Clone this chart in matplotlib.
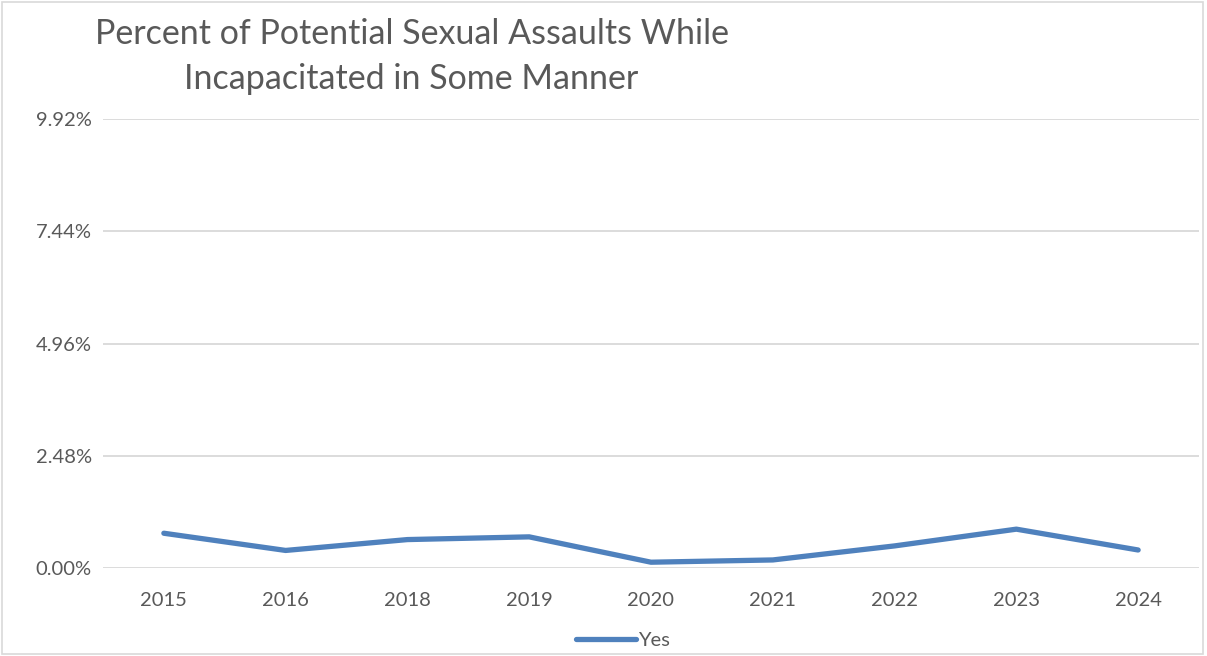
import matplotlib.pyplot as plt
from matplotlib.patches import Rectangle

# data (percent)
years = ['2015', '2016', '2018', '2019', '2020', '2021', '2022', '2023', '2024']
yes_pct = [0.77, 0.39, 0.63, 0.69, 0.13, 0.18, 0.49, 0.86, 0.40]
y_ticks = [0.0, 2.48, 4.96, 7.44, 9.92]

TEXT = '#595959'
plt.rcParams['font.family'] = ['Lato', 'DejaVu Sans']

fig = plt.figure(figsize=(12.07, 6.56), dpi=100)
ax = fig.add_axes([0.0853, 0.134, 0.9081, 0.6846])

x = list(range(len(years)))
line, = ax.plot(x, yes_pct, color='#4F81BD', lw=3.8, solid_capstyle='round',
                solid_joinstyle='round', label='Yes')

ax.set_xlim(-0.5, len(years) - 0.5)
ax.set_ylim(0, 9.92)
ax.set_yticks(y_ticks)
ax.set_yticklabels([f'{v:.2f}%' for v in y_ticks])
ax.set_xticks(x)
ax.set_xticklabels(years)
ax.grid(axis='y', color='#D9D9D9', lw=1.3)
ax.set_axisbelow(True)
for s in ax.spines.values():
    s.set_visible(False)
ax.tick_params(length=0, labelsize=14.5, colors=TEXT, pad=17)
ax.tick_params(axis='y', pad=8)

# title, two lines
fig.text(0.341, 0.914, 'Percent of Potential Sexual Assaults While\nIncapacitated in Some Manner',
         ha='center', va='center', fontsize=24.5, color=TEXT, linespacing=1.5)

# legend at bottom
fig.legend(handles=[line], loc='center', bbox_to_anchor=(0.516, 0.024), frameon=False,
           fontsize=14.5, labelcolor=TEXT, handlelength=3.0, handletextpad=0.1)

# chart border
fig.patches.append(Rectangle((0.002, 0.003), 0.995, 0.994, transform=fig.transFigure,
                             fill=False, edgecolor='#D9D9D9', lw=1.2))

fig.savefig('out.png', dpi=100)
